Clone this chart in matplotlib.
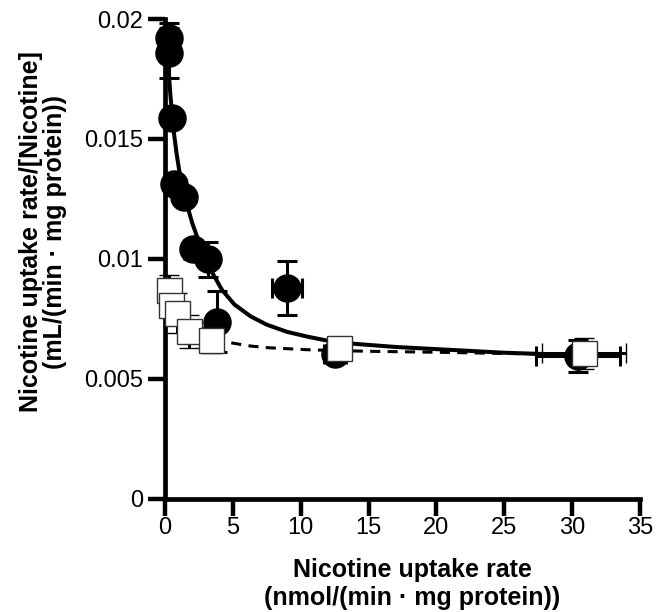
import matplotlib
matplotlib.use('Agg')
import matplotlib.pyplot as plt

plt.rcParams['font.family'] = ['Liberation Sans', 'DejaVu Sans']

# filled circles
circ_x = [0.32, 0.32, 0.49, 0.68, 1.37, 2.04, 3.14, 3.82, 8.97, 12.5, 30.4]
circ_y = [0.0192, 0.01857, 0.01585, 0.01312, 0.01256, 0.01039, 0.00997, 0.00738, 0.00877, 0.00604, 0.00596]
circ_yerr = [0.00064, 0.00105, 0.0003, 0.0003, 0.0003, 0.0004, 0.00074, 0.00126, 0.00113, 0.0003, 0.00067]
circ_xerr = [0.05, 0.05, 0.05, 0.05, 0.1, 0.1, 0.1, 0.2, 1.1, 0.8, 3.1]

# open squares
sq_x = [0.32, 0.44, 0.88, 1.79, 3.38, 12.8, 30.9]
sq_y = [0.00871, 0.00808, 0.00773, 0.00697, 0.00662, 0.00626, 0.00605]
sq_yerr = [0.0006, 0.0004, 0.00084, 0.0007, 0.00055, 0.0003, 0.00063]
sq_xerr = [0.05, 0.05, 0.1, 0.1, 0.2, 0.6, 3.1]

# fitted curves
fit_solid_x = [0.15, 0.25, 0.4, 0.6, 0.85, 1.1, 1.5, 2.0, 2.5, 3.0, 3.5, 4.2, 5.1,
               6.3, 7.5, 9.0, 10.5, 12.0, 14.0, 17.0, 21.0, 25.0, 30.4]
fit_solid_y = [0.0193, 0.0180, 0.0168, 0.0155, 0.0144, 0.0135, 0.0125, 0.0115, 0.0107,
               0.0100, 0.0094, 0.0087, 0.0081, 0.0076, 0.00725, 0.00695, 0.00675,
               0.00658, 0.00645, 0.00632, 0.0062, 0.00608, 0.00598]
fit_dash_x = [0.3, 0.5, 0.8, 1.2, 1.8, 2.5, 3.5, 5.1, 6.3, 7.55, 10.7, 15, 20, 25, 30.9]
fit_dash_y = [0.0086, 0.0082, 0.0078, 0.0075, 0.0071, 0.0068, 0.00665, 0.00647, 0.00636,
              0.00629, 0.0062, 0.00614, 0.0061, 0.00605, 0.006]

xticks = [0, 5, 10, 15, 20, 25, 30, 35]
yticks = [0, 0.005, 0.01, 0.015, 0.02]
ytick_labels = ['0', '0.005', '0.01', '0.015', '0.02']

fig = plt.figure(figsize=(6.59, 6.12), dpi=100)
ax = fig.add_axes([165 / 659, (612 - 498.5) / 612, 475 / 659, 479.5 / 612])

ax.plot(fit_solid_x, fit_solid_y, color='black', lw=2.9, zorder=2, clip_on=False)
ax.plot(fit_dash_x, fit_dash_y, color='black', lw=2.2, linestyle=(0, (3.3, 2.4)),
        zorder=2, clip_on=False)

ax.errorbar(circ_x, circ_y, yerr=circ_yerr, xerr=circ_xerr, fmt='o', ms=19.5,
            mfc='black', mec='black', ecolor='black', elinewidth=2.2, capsize=7,
            capthick=2.2, zorder=3, clip_on=False)
ax.errorbar(sq_x, sq_y, yerr=sq_yerr, xerr=sq_xerr, fmt='s', ms=18,
            mfc='white', mec='#333333', mew=1.0, ecolor='black', elinewidth=2.2,
            capsize=7, capthick=2.2, zorder=4, clip_on=False)

ax.set_xlim(0, 35)
ax.set_ylim(0, 0.02)
ax.set_xticks(xticks)
ax.set_yticks(yticks)
ax.set_yticklabels(ytick_labels)

for s in ['top', 'right']:
    ax.spines[s].set_visible(False)
for s in ['left', 'bottom']:
    ax.spines[s].set_linewidth(3.4)
    ax.spines[s].set_capstyle('projecting')

ax.tick_params(axis='both', direction='out', length=12, width=3.2, labelsize=17)
ax.tick_params(axis='x', pad=1.5)
ax.tick_params(axis='y', pad=4)

ax.set_xlabel('Nicotine uptake rate\n(nmol/(min · mg protein))', fontsize=18,
              fontweight='bold', linespacing=1.2)
ax.set_ylabel('Nicotine uptake rate/[Nicotine]\n(mL/(min · mg protein))', fontsize=18,
              fontweight='bold', linespacing=1.0)
ax.xaxis.set_label_coords(0.521, -0.125)
ax.yaxis.set_label_coords(-0.206, 0.556)

fig.savefig('out.png', dpi=100)
